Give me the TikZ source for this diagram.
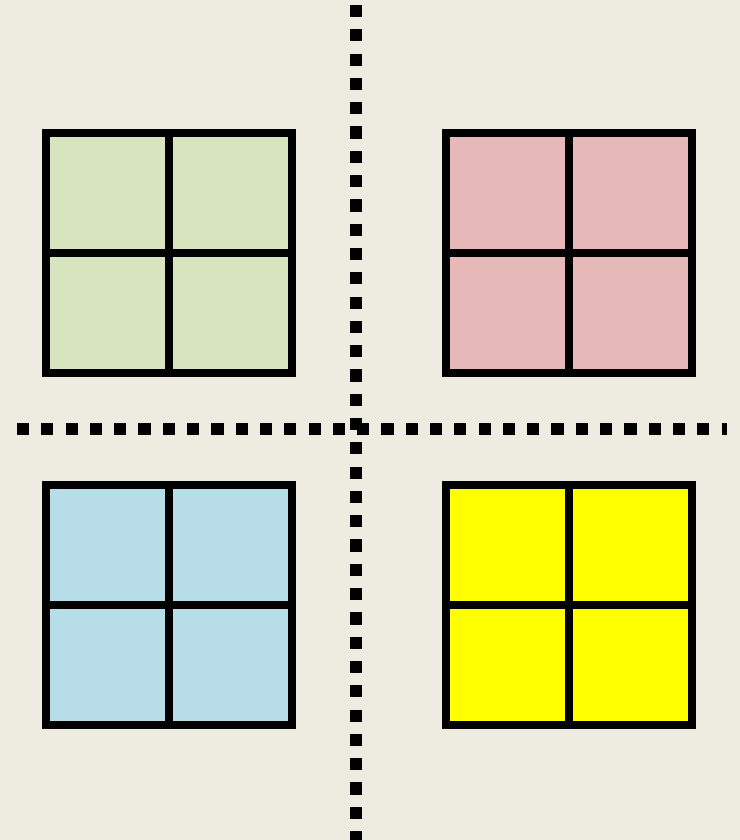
\documentclass[tikz,border=0pt]{standalone}
\definecolor{paper}{HTML}{EEECE1}
\definecolor{sqgreen}{HTML}{D7E4BD}
\definecolor{sqred}{HTML}{E6B9B8}
\definecolor{sqblue}{HTML}{B7DEE8}
\definecolor{sqyellow}{HTML}{FFFF00}
\begin{document}
\begin{tikzpicture}[x=0.02cm, y=-0.02cm,
    gridline/.style={line width=0.16cm, line join=miter},
    dotline/.style={line width=0.24cm, dash pattern=on 0.243cm off 0.243cm}]
    \fill[paper] (0,0) rectangle (740,840);
    \useasboundingbox (0,0) rectangle (740,840);

    % four squares, each split into four cells
    \foreach \x/\y/\c in {46/133/sqgreen, 446/133/sqred, 46/485/sqblue, 446/485/sqyellow} {
        \fill[\c] (\x,\y) rectangle ++(246,240);
        \draw[gridline] (\x,\y) rectangle ++(246,240);
        \draw[gridline] (\x+123,\y) -- ++(0,240);
        \draw[gridline] (\x,\y+120) -- ++(246,0);
    }

    \draw[dotline] (356,5) -- (356,840);
    \draw[dotline] (17,429) -- (727,429);
\end{tikzpicture}
\end{document}
